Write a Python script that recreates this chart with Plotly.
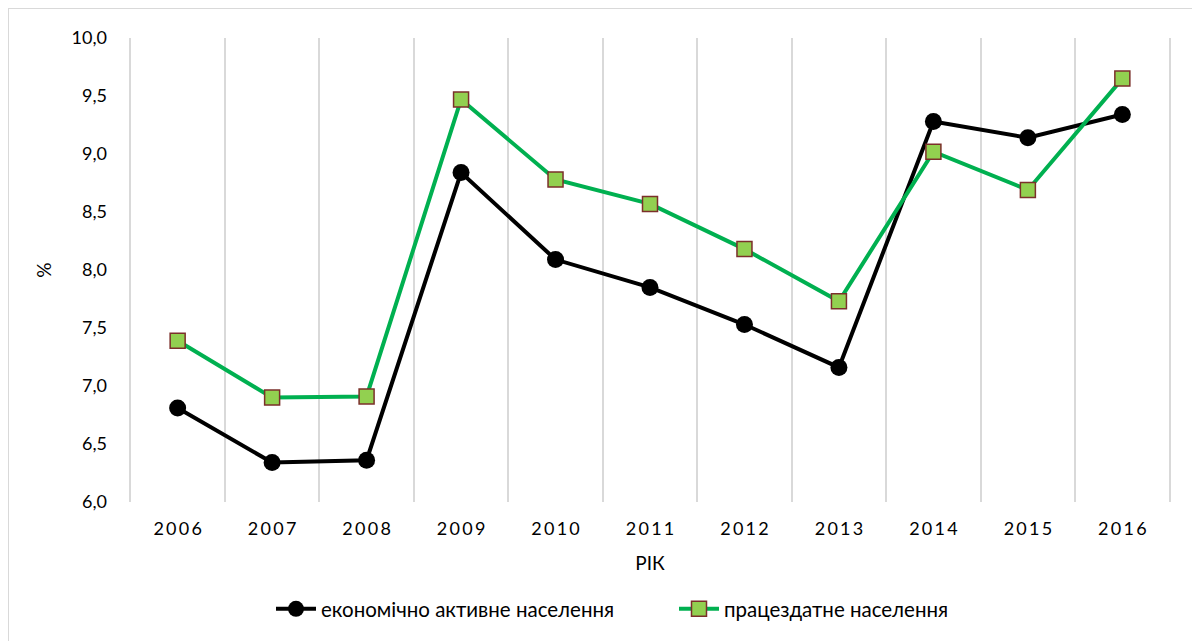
import plotly.graph_objects as go

years = ["2006", "2007", "2008", "2009", "2010", "2011", "2012", "2013", "2014", "2015", "2016"]
econ_active = [6.81, 6.34, 6.36, 8.84, 8.09, 7.85, 7.53, 7.16, 9.28, 9.14, 9.34]
able_bodied = [7.39, 6.90, 6.91, 9.47, 8.78, 8.57, 8.18, 7.73, 9.02, 8.69, 9.65]
y_ticks = [6.0, 6.5, 7.0, 7.5, 8.0, 8.5, 9.0, 9.5, 10.0]
name1 = "економічно активне населення"
name2 = "працездатне населення"

FONT = "Lato, Open Sans, sans-serif"
tick_text = ["\u2009".join(list(y)) for y in years]

# plot area in figure pixels (page is offset by the 8px body margin)
L, T, W, H = 121, 30, 1042, 464

fig = go.Figure()
fig.add_trace(go.Scatter(
    x=years, y=econ_active, name=name1, mode="lines+markers",
    line=dict(color="#000000", width=4),
    marker=dict(symbol="circle", size=17, color="#000000"),
))
fig.add_trace(go.Scatter(
    x=years, y=able_bodied, name=name2, mode="lines+markers",
    line=dict(color="#00b050", width=4),
    marker=dict(symbol="square", size=15, color="#92d050",
                line=dict(color="#7b2f2a", width=1.5)),
))

fig.update_layout(
    width=1200, height=641,
    margin=dict(l=L, r=1200 - L - W, t=T, b=641 - T - H, autoexpand=False),
    paper_bgcolor="white", plot_bgcolor="white",
    separators=", ",
    font=dict(family=FONT, size=17, color="#000000"),
    showlegend=True,
    legend=dict(orientation="h", x=(263 - L) / W, xanchor="left", y=-(609 - 8 - T - H) / H,
                yanchor="middle", entrywidth=348,
                font=dict(family=FONT, size=20.5, color="#000000"), itemwidth=40,
                traceorder="normal"),
    xaxis=dict(type="category", tickson="boundaries", showgrid=True, automargin=False,
               range=[-0.515, len(years) - 0.485],
               gridcolor="#d9d9d9", gridwidth=1.5, showline=False, zeroline=False,
               ticks="", tickvals=years, ticktext=tick_text, ticklabelstandoff=14,
               tickfont=dict(family=FONT, size=18, color="#000000"),
               title=dict(text="РІК", font=dict(family=FONT, size=19, color="#000000"), standoff=18)),
    yaxis=dict(range=[6.0, 10.0], tickvals=y_ticks, tickformat=".1f", showgrid=False,
               automargin=False, showline=False, zeroline=False, ticks="", ticklabelstandoff=21,
               tickfont=dict(family=FONT, size=18, color="#000000"),
               title=dict(text="%", font=dict(family=FONT, size=19, color="#000000"), standoff=14)),
    shapes=[dict(type="rect", xref="paper", yref="paper",
                 x0=-L / W, x1=(1220 - L) / W,
                 y0=-(660 - T - H) / H, y1=(T + H) / H,
                 line=dict(color="#d9d9d9", width=2), fillcolor="rgba(0,0,0,0)", layer="below")],
)

fig.write_html("out.html")
